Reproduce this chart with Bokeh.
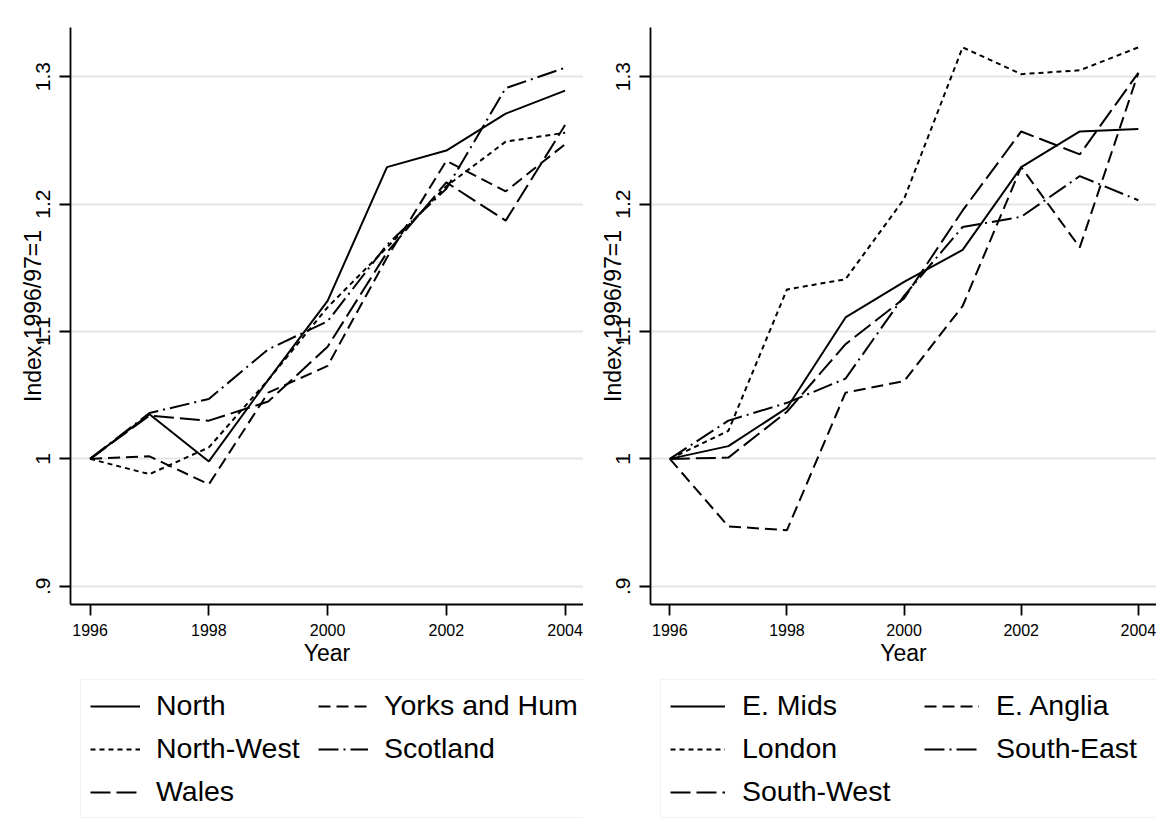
from bokeh.plotting import figure
from bokeh.models import Range1d, FixedTicker, Legend, LegendItem
from bokeh.layouts import row, column
from bokeh.embed import file_html
from bokeh.resources import INLINE

years = [1996, 1997, 1998, 1999, 2000, 2001, 2002, 2003, 2004]

# Left panel
north = [1.0, 1.035, 0.998, 1.062, 1.124, 1.229, 1.242, 1.271, 1.289]
north_west = [1.0, 0.988, 1.009, 1.062, 1.119, 1.166, 1.214, 1.249, 1.256]
wales = [1.0, 1.034, 1.030, 1.045, 1.088, 1.162, 1.217, 1.187, 1.262]
yorks = [1.0, 1.002, 0.980, 1.052, 1.073, 1.158, 1.234, 1.210, 1.247]
scotland = [1.0, 1.036, 1.047, 1.086, 1.108, 1.168, 1.212, 1.291, 1.307]

# Right panel
e_mids = [1.0, 1.010, 1.040, 1.111, 1.139, 1.164, 1.229, 1.257, 1.259]
london = [1.0, 1.022, 1.133, 1.141, 1.204, 1.323, 1.302, 1.305, 1.323]
e_anglia = [1.0, 0.947, 0.944, 1.052, 1.061, 1.120, 1.229, 1.166, 1.303]
south_east = [1.0, 1.030, 1.044, 1.063, 1.128, 1.182, 1.190, 1.222, 1.203]
south_west = [1.0, 1.001, 1.037, 1.090, 1.126, 1.195, 1.257, 1.239, 1.303]

x_ticks = [1996, 1998, 2000, 2002, 2004]
y_ticks = [0.9, 1.0, 1.1, 1.2, 1.3]
y_tick_labels = [".9", "1", "1.1", "1.2", "1.3"]
x_title = "Year"
y_title = "Index,1996/97=1"

FONT = "Liberation Sans"

# Stata-like line patterns
PAT_SOLID = "solid"
PAT_DASH = "12 6"
PAT_SHORT = "5 4"
PAT_LDDOT = "20 5 2 5"
PAT_LDASH = "20 6"

left_series = [
    ("North", north, PAT_SOLID),
    ("Yorks and Hum", yorks, PAT_DASH),
    ("North-West", north_west, PAT_SHORT),
    ("Scotland", scotland, PAT_LDDOT),
    ("Wales", wales, PAT_LDASH),
]
right_series = [
    ("E. Mids", e_mids, PAT_SOLID),
    ("E. Anglia", e_anglia, PAT_DASH),
    ("London", london, PAT_SHORT),
    ("South-East", south_east, PAT_LDDOT),
    ("South-West", south_west, PAT_LDASH),
]

LW = 2.0


def make_panel(series, border_left, frame_width, legend_x, glyph_w, label_w, standoff):
    total_w = border_left + frame_width
    p = figure(output_backend="svg", toolbar_location=None,
               x_range=Range1d(1995.67, 2004.31), y_range=Range1d(0.8857, 1.3386),
               frame_width=frame_width, frame_height=577,
               min_border_left=border_left, min_border_top=27,
               min_border_right=0, min_border_bottom=68,
               background_fill_color="white", border_fill_color="white",
               outline_line_color=None)
    # axes
    p.xaxis.ticker = FixedTicker(ticks=x_ticks)
    p.yaxis.ticker = FixedTicker(ticks=y_ticks)
    p.yaxis.major_label_overrides = {t: l for t, l in zip(y_ticks, y_tick_labels)}
    p.yaxis.major_label_orientation = "vertical"
    for ax in (p.xaxis[0], p.yaxis[0]):
        ax.axis_line_color = "black"
        ax.axis_line_width = 1.8
        ax.major_tick_line_color = "black"
        ax.major_tick_line_width = 1.8
        ax.major_tick_in = 0
        ax.major_tick_out = 11
        ax.minor_tick_line_color = None
        ax.major_label_text_font = FONT
        ax.major_label_text_color = "black"
        ax.axis_label_text_font = FONT
        ax.axis_label_text_font_style = "normal"
        ax.axis_label_text_color = "black"
        ax.axis_label_text_font_size = "23px"
    p.xaxis.major_label_text_font_size = "16px"
    p.xaxis.major_label_standoff = 8
    p.xaxis.axis_label = x_title
    p.xaxis.axis_label_standoff = 1
    p.yaxis.major_label_text_font_size = "21px"
    p.yaxis.major_label_standoff = 9
    p.yaxis.axis_label = y_title
    p.yaxis.axis_label_standoff = -12
    # grid
    p.xgrid.grid_line_color = None
    p.ygrid.ticker = FixedTicker(ticks=y_ticks)
    p.ygrid.grid_line_color = "#e6e6e6"
    p.ygrid.grid_line_width = 1.8

    for name, vals, pat in series:
        p.line(years, vals, line_color="black", line_width=LW, line_dash=pat)

    # legend panel (separate canvas under the plot so the key is not clipped)
    lg = figure(output_backend="svg", toolbar_location=None,
                x_axis_type=None, y_axis_type=None,
                x_range=Range1d(0, 1), y_range=Range1d(0, 1),
                frame_width=total_w, frame_height=154,
                min_border_left=0, min_border_right=0,
                min_border_top=0, min_border_bottom=0,
                background_fill_color="white", border_fill_color="white",
                outline_line_color=None)
    lg.xgrid.visible = False
    lg.ygrid.visible = False
    items = []
    for name, vals, pat in series:
        # same series, outside this canvas's visible range: only the key is shown
        r = lg.line(years, vals, line_color="black", line_width=LW, line_dash=pat)
        items.append(LegendItem(label=name, renderers=[r]))
    legend = Legend(items=items, ncols=2, orientation="horizontal",
                    location=(legend_x, 8),
                    label_text_font=FONT, label_text_font_size="28.5px",
                    label_text_color="black",
                    glyph_width=glyph_w, glyph_height=30, label_height=30,
                    label_width=label_w,
                    label_standoff=standoff, spacing=10, padding=9, margin=0,
                    border_line_color="#e6e6e6", border_line_width=1.5,
                    background_fill_color="white", background_fill_alpha=1.0)
    lg.add_layout(legend)
    return column(p, lg)


c1 = make_panel(left_series, 70, 513, 80, 50, 152, 16)
c2 = make_panel(right_series, 67, 506, 77, 55, 172, 17)
layout = row(c1, c2)

open("out.html", "w").write(file_html(layout, INLINE))
